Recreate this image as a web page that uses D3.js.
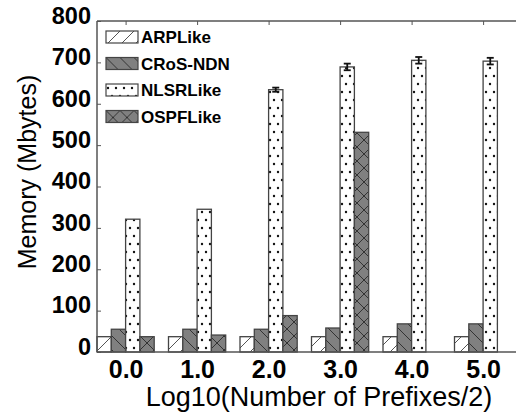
<!DOCTYPE html>
<html>
<head>
<meta charset="utf-8">
<script src="https://cdn.jsdelivr.net/npm/d3@7"></script>
<style>
body { margin: 0; background: #fff; }
svg { display: block; font-family: "Liberation Sans", Arial, sans-serif; }
</style>
</head>
<body>
<div id="canvas"><svg width="516" height="417"></svg></div>
<script>
var groups = ["0.0", "1.0", "2.0", "3.0", "4.0", "5.0"];
var seriesNames = ["ARPLike", "CRoS-NDN", "NLSRLike", "OSPFLike"];
var arpLike = [37, 37, 37, 37, 37, 37];
var crosNdn = [55, 55, 55, 58, 68, 68];
var nlsrLike = [321, 345, 634, 689, 705, 703];
var nlsrErr = [0, 0, 5, 8, 8, 8];
var ospfLike = [37, 41, 88, 531, null, null];
var yTicks = [0, 100, 200, 300, 400, 500, 600, 700, 800];

var seriesValues = [arpLike, crosNdn, nlsrLike, ospfLike];
var seriesErr = [null, null, nlsrErr, null];

var svg = d3.select("#canvas svg");
var plotLeft = 97, plotTop = 21, plotBottom = 352, plotRight = 530;

var x0 = d3.scaleBand().domain(groups).range([plotLeft, plotLeft + 6 * 71.5]).paddingInner(0).paddingOuter(0);
var x1 = d3.scaleBand().domain(seriesNames).range([0, x0.bandwidth() * 0.8]);
var y = d3.scaleLinear().domain([0, 800]).range([plotBottom, plotTop]);

// hatch patterns
var defs = svg.append("defs");
var p;
p = defs.append("pattern").attr("id", "pat0").attr("patternUnits", "userSpaceOnUse")
  .attr("width", 14).attr("height", 14);
p.append("rect").attr("width", 14).attr("height", 14).attr("fill", "#fff");
p.append("path").attr("d", "M0,14 L14,0 M-7,7 L7,-7 M7,21 L21,7").attr("stroke", "#555").attr("stroke-width", 1);

p = defs.append("pattern").attr("id", "pat1").attr("patternUnits", "userSpaceOnUse")
  .attr("width", 14).attr("height", 14);
p.append("rect").attr("width", 14).attr("height", 14).attr("fill", "#808080");
p.append("path").attr("d", "M0,0 L14,14 M-7,7 L7,21 M7,-7 L21,7").attr("stroke", "#333").attr("stroke-width", 1);

p = defs.append("pattern").attr("id", "pat2").attr("patternUnits", "userSpaceOnUse")
  .attr("width", 8).attr("height", 16);
p.append("rect").attr("width", 8).attr("height", 16).attr("fill", "#fff");
p.append("circle").attr("cx", 2).attr("cy", 4).attr("r", 1.2).attr("fill", "#111");
p.append("circle").attr("cx", 6).attr("cy", 12).attr("r", 1.2).attr("fill", "#111");

p = defs.append("pattern").attr("id", "pat3").attr("patternUnits", "userSpaceOnUse")
  .attr("width", 14).attr("height", 14);
p.append("rect").attr("width", 14).attr("height", 14).attr("fill", "#808080");
p.append("path").attr("d", "M0,0 L14,14 M14,0 L0,14").attr("stroke", "#333").attr("stroke-width", 1);

// bars
var barData = [];
groups.forEach(function (g, gi) {
  seriesNames.forEach(function (s, si) {
    var v = seriesValues[si][gi];
    if (v == null) return;
    barData.push({ g: g, s: s, si: si, v: v, err: seriesErr[si] ? seriesErr[si][gi] : 0 });
  });
});

svg.append("g").selectAll("rect").data(barData).enter().append("rect")
  .attr("x", function (d) { return x0(d.g) + x1(d.s); })
  .attr("y", function (d) { return y(d.v); })
  .attr("width", x1.bandwidth())
  .attr("height", function (d) { return plotBottom - y(d.v); })
  .attr("fill", function (d) { return "url(#pat" + d.si + ")"; })
  .attr("stroke", "#444")
  .attr("stroke-width", 1.3);

// error bars
function barMid(d) { return x0(d.g) + x1(d.s) + x1.bandwidth() / 2; }
var eb = svg.append("g").selectAll("g").data(barData.filter(function (d) { return d.err > 0; }))
  .enter().append("g").attr("stroke", "#111").attr("stroke-width", 1.8);
eb.append("line")
  .attr("x1", barMid).attr("x2", barMid)
  .attr("y1", function (d) { return y(d.v + d.err); })
  .attr("y2", function (d) { return y(d.v - d.err); });
eb.append("line")
  .attr("x1", function (d) { return barMid(d) - 3.5; })
  .attr("x2", function (d) { return barMid(d) + 3.5; })
  .attr("y1", function (d) { return y(d.v + d.err); })
  .attr("y2", function (d) { return y(d.v + d.err); });
eb.append("line")
  .attr("x1", function (d) { return barMid(d) - 3.5; })
  .attr("x2", function (d) { return barMid(d) + 3.5; })
  .attr("y1", function (d) { return y(d.v - d.err); })
  .attr("y2", function (d) { return y(d.v - d.err); });

// axes
var xc = d3.scalePoint().domain(groups)
  .range([x0(groups[0]) + x0.bandwidth() * 0.4, x0(groups[5]) + x0.bandwidth() * 0.4]);

var yAxis = svg.append("g").attr("transform", "translate(" + plotLeft + ",0)")
  .call(d3.axisLeft(y).tickValues(yTicks).tickSize(-4).tickPadding(6).tickFormat(d3.format("d")));
yAxis.selectAll("text").attr("font-size", 23.5).attr("font-weight", "bold").attr("fill", "#000")
  .attr("font-family", "Liberation Sans, Arial, sans-serif").attr("dy", "0.1em");

var xAxis = svg.append("g").attr("transform", "translate(0," + plotBottom + ")")
  .call(d3.axisBottom(xc).tickSize(-4).tickPadding(8));
xAxis.selectAll("text").attr("font-size", 25).attr("font-weight", "bold").attr("fill", "#000")
  .attr("font-family", "Liberation Sans, Arial, sans-serif");

var topAxis = svg.append("g").attr("transform", "translate(0," + plotTop + ")")
  .call(d3.axisTop(xc).tickSize(-4).tickFormat(""));

svg.selectAll(".domain").attr("stroke", "#555").attr("stroke-width", 1.5);
svg.selectAll(".tick line").attr("stroke", "#555");
yAxis.select(".domain").attr("d", "M0," + plotTop + "V" + plotBottom);
xAxis.select(".domain").attr("d", "M" + plotLeft + ",0H" + plotRight);
topAxis.select(".domain").attr("d", "M" + plotLeft + ",0H" + plotRight);

// axis titles
svg.append("text")
  .attr("transform", "translate(36,172) rotate(-90)")
  .attr("text-anchor", "middle")
  .attr("font-size", 25)
  .text("Memory (Mbytes)");

svg.append("text")
  .attr("x", 319).attr("y", 406)
  .attr("text-anchor", "middle")
  .attr("font-size", 27)
  .text("Log10(Number of Prefixes/2)");

// legend
var legend = svg.append("g").selectAll("g").data(seriesNames).enter().append("g")
  .attr("transform", function (d, i) { return "translate(106," + (31 + i * 26.5) + ")"; });
legend.append("rect")
  .attr("width", 32).attr("height", 12)
  .attr("fill", function (d, i) { return "url(#pat" + i + ")"; })
  .attr("stroke", "#444").attr("stroke-width", 1.2);
legend.append("text")
  .attr("x", 35).attr("y", 12)
  .attr("font-size", 17).attr("font-weight", "bold")
  .text(function (d) { return d; });
</script>
</body>
</html>
